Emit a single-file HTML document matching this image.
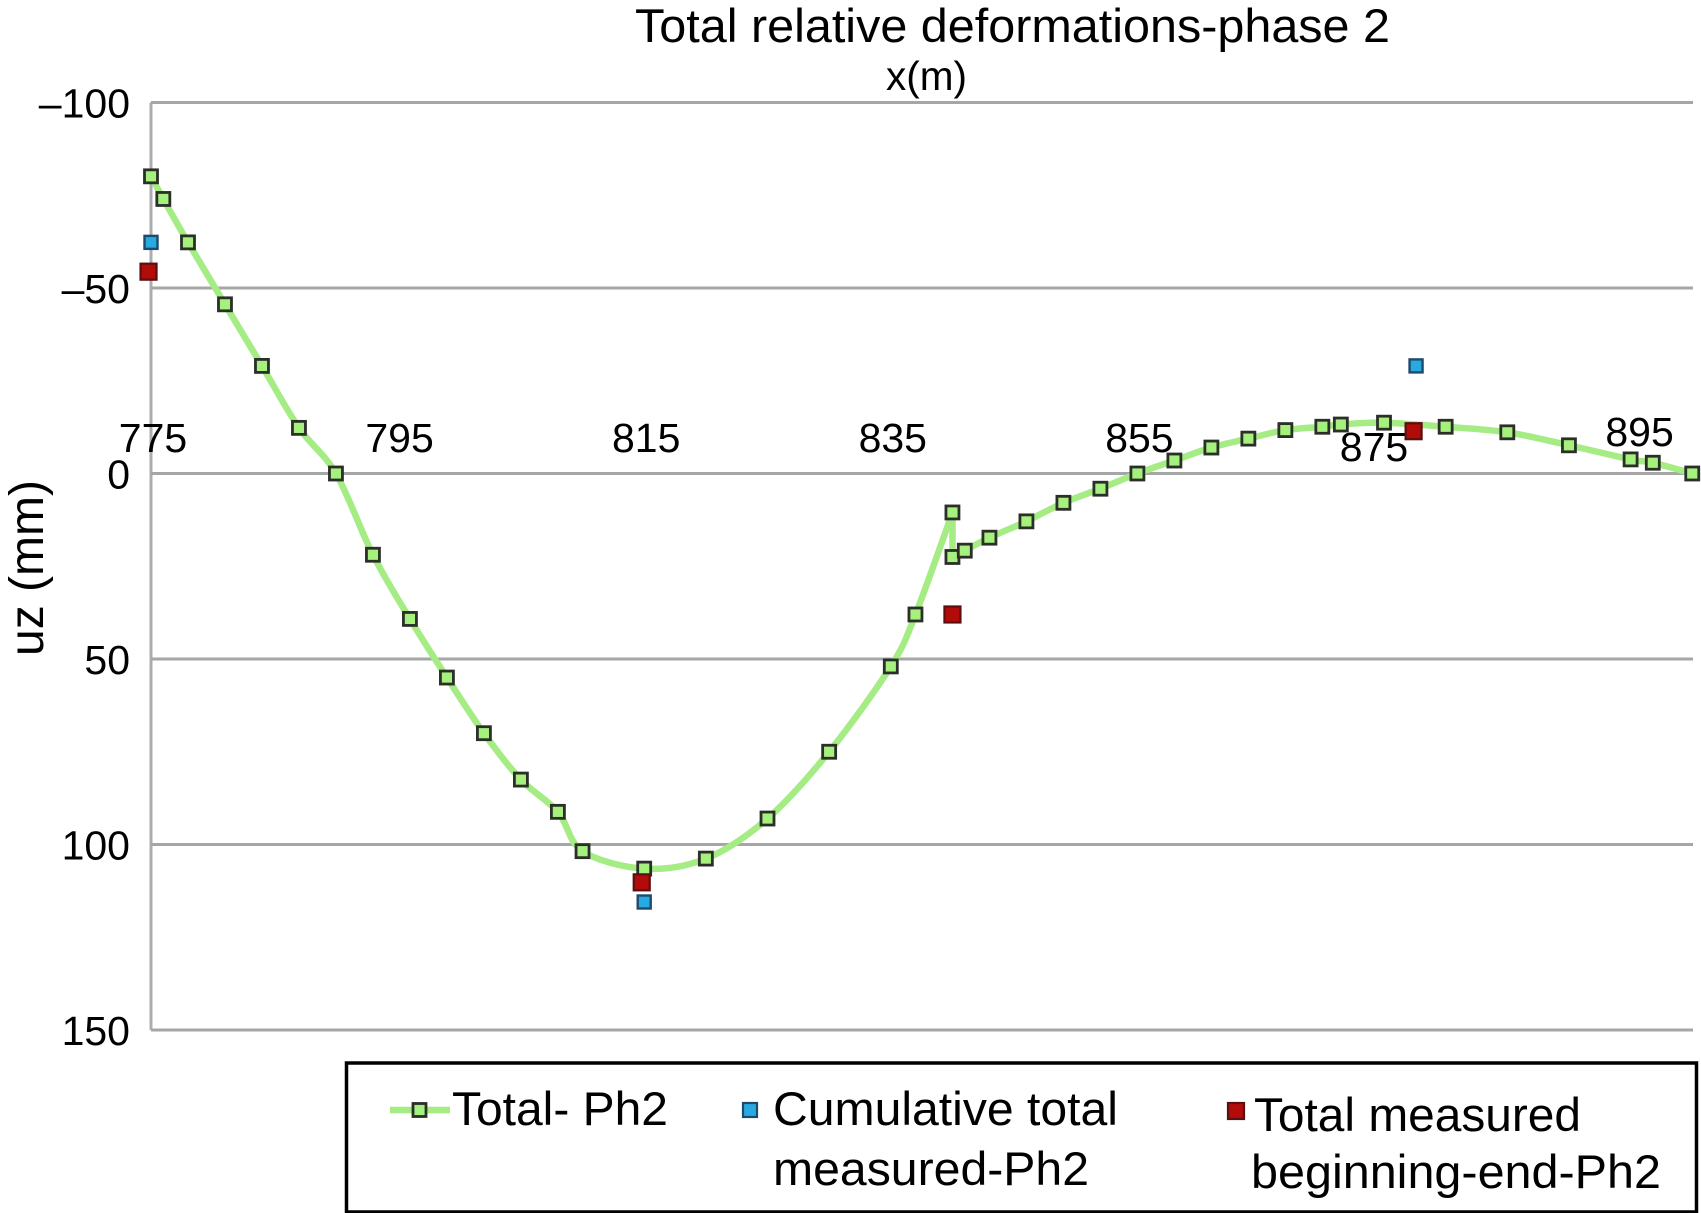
<!DOCTYPE html>
<html lang="en">
<head>
<meta charset="utf-8">
<title>Total relative deformations-phase 2</title>
<style>
html,body{margin:0;padding:0;background:#fff;width:1701px;height:1213px;overflow:hidden}
svg{display:block}
text{font-family:"Liberation Sans",Arial,sans-serif;fill:#000}
</style>
</head>
<body>
<svg id="chart" xmlns="http://www.w3.org/2000/svg" width="1701" height="1213" viewBox="0 0 1701 1213">
  <rect x="0" y="0" width="1701" height="1213" fill="#fff"/>
  <g id="grid"></g>
  <g id="ylabels"></g>
  <g id="xlabels"></g>
  <g id="series"></g>

  <text x="635" y="42" font-size="47" textLength="755" lengthAdjust="spacingAndGlyphs">Total relative deformations-phase 2</text>
  <text x="886" y="90" font-size="41" textLength="81" lengthAdjust="spacingAndGlyphs">x(m)</text>
  <text transform="translate(43,656) rotate(-90)" font-size="48">uz (mm)</text>

  <g>
    <rect x="346.5" y="1063" width="1350" height="149" fill="#fff" stroke="#000" stroke-width="3.5"/>
    <g>
      <line x1="390" y1="1110" x2="450" y2="1110" stroke="#a5ec85" stroke-width="6.5"/>
      <rect x="413" y="1103.5" width="13" height="13" fill="#a6f07e" stroke="#2a2f28" stroke-width="2.8"/>
      <text x="452" y="1125" font-size="47" textLength="216" lengthAdjust="spacingAndGlyphs">Total- Ph2</text>
    </g>
    <g>
      <rect x="743" y="1103" width="14" height="14" fill="#27a9e1" stroke="#1f4a6b" stroke-width="2.2"/>
      <text x="773" y="1125" font-size="47" textLength="345" lengthAdjust="spacingAndGlyphs">Cumulative total</text>
      <text x="773" y="1185" font-size="47" textLength="316" lengthAdjust="spacingAndGlyphs">measured-Ph2</text>
    </g>
    <g>
      <rect x="1228" y="1103" width="16" height="16" fill="#b30a0a" stroke="#5a1010" stroke-width="2.2"/>
      <text x="1254" y="1131" font-size="47" textLength="327" lengthAdjust="spacingAndGlyphs">Total measured</text>
      <text x="1251" y="1188" font-size="47" textLength="410" lengthAdjust="spacingAndGlyphs">beginning-end-Ph2</text>
    </g>
  </g>
</svg>
<script>
var xTicks = [775, 795, 815, 835, 855, 875, 895];
var yTicks = [-100, -50, 0, 50, 100, 150];
var totalX = [775,776,778,781,784,787,790,793,796,799,802,805,808,810,815,820,825,830,835,837,840,840,841,843,846,849,852,855,858,861,864,867,870,871.5,875,880,885,890,895,896.8,900];
var totalY = [-80.1,-74,-62.3,-45.6,-29,-12.3,0,21.9,39.2,55,70,82.5,91.2,101.8,106.5,103.8,93,75,52,38,10.5,22.5,20.8,17.3,12.9,7.9,4.1,0,-3.5,-7,-9.4,-11.7,-12.6,-13.2,-13.7,-12.6,-11.1,-7.6,-3.8,-2.9,0];
var cumulativeX = [775, 815, 877.6];
var cumulativeY = [-62.3, 115.5, -29];
var measuredX = [774.8, 814.8, 840, 877.4];
var measuredY = [-54.4, 110.2, 38, -11.4];

var NS = 'http://www.w3.org/2000/svg';
function xScale(v){ return 151 + (v - 775) * 12.33; }
function yScale(v){ return 473.5 + v * 3.71; }
function make(parent, tag, attrs){
  var el = document.createElementNS(NS, tag);
  for (var k in attrs) el.setAttribute(k, attrs[k]);
  parent.appendChild(el);
  return el;
}

var grid = document.getElementById('grid');
var ylabels = document.getElementById('ylabels');
var xlabels = document.getElementById('xlabels');
var series = document.getElementById('series');

var yAxisLine = make(grid, 'line', {x1: xScale(775), x2: xScale(775), y1: yScale(-100), y2: yScale(150), stroke: '#adadad', 'stroke-width': 3});



yTicks.forEach(function(t){
  var g = make(grid, 'line', {x1: xScale(775), x2: 1693, y1: yScale(t), y2: yScale(t), stroke: '#a6a6a6', 'stroke-width': 3});
  
  
  var lab = make(ylabels, 'text', {x: 130, y: yScale(t) + 15, 'font-size': 41, 'text-anchor': 'end'});
  lab.textContent = t < 0 ? '\u2013' + Math.abs(t) : String(t);
  
  
});

xTicks.forEach(function(t){
  // labels sit above the zero line; 875 and 895 are nudged in the original to avoid data
  var dx = 2, base = 452;
  if (t === 875) { dx = -10; base = 461; }
  if (t === 895) { dx = 9; base = 446; }
  var lab = make(xlabels, 'text', {x: xScale(t) + dx, y: base, 'font-size': 41, 'text-anchor': 'middle'});
  lab.textContent = String(t);
  
  
});

// Smoothed line through the data, broken at the cusp where x repeats
function smoothRun(from, to){
  var d = '';
  for (var i = from; i < to; i++) {
    var a = Math.max(i - 1, from), b = Math.min(i + 2, to);
    var x0 = xScale(totalX[a]), y0 = yScale(totalY[a]);
    var x1 = xScale(totalX[i]), y1 = yScale(totalY[i]);
    var x2 = xScale(totalX[i + 1]), y2 = yScale(totalY[i + 1]);
    var x3 = xScale(totalX[b]), y3 = yScale(totalY[b]);
    if (i === from) d += 'M' + x1.toFixed(1) + ' ' + y1.toFixed(1);
    d += 'C' + (x1 + (x2 - x0) / 6).toFixed(1) + ' ' + (y1 + (y2 - y0) / 6).toFixed(1) + ' ' +
         (x2 - (x3 - x1) / 6).toFixed(1) + ' ' + (y2 - (y3 - y1) / 6).toFixed(1) + ' ' +
         x2.toFixed(1) + ' ' + y2.toFixed(1);
  }
  return d;
}
var pathD = '', runStart = 0;
for (var n = 1; n < totalX.length; n++) {
  if (n === totalX.length - 1 || totalX[n + 1] === totalX[n] || totalX[n - 1] === totalX[n]) {
    pathD += smoothRun(runStart, n);
    runStart = n;
  }
}
var line = make(series, 'path', {d: pathD, fill: 'none', stroke: '#a5ec85', 'stroke-width': 6.5, 'stroke-linejoin': 'round', 'stroke-linecap': 'round'});



totalX.forEach(function(x, i){
  var m = make(series, 'rect', {x: xScale(x) - 6.5, y: yScale(totalY[i]) - 6.5, width: 13, height: 13, fill: '#a6f07e', stroke: '#2a2f28', 'stroke-width': 2.8});
  
  
});
cumulativeX.forEach(function(x, i){
  var m = make(series, 'rect', {x: xScale(x) - 6.5, y: yScale(cumulativeY[i]) - 6.5, width: 13, height: 13, fill: '#27a9e1', stroke: '#1f4a6b', 'stroke-width': 2.4});
  
  
});
measuredX.forEach(function(x, i){
  var m = make(series, 'rect', {x: xScale(x) - 8, y: yScale(measuredY[i]) - 8, width: 16, height: 16, fill: '#b30a0a', stroke: '#5a1010', 'stroke-width': 2.2});
  
  
});
</script>
</body>
</html>
